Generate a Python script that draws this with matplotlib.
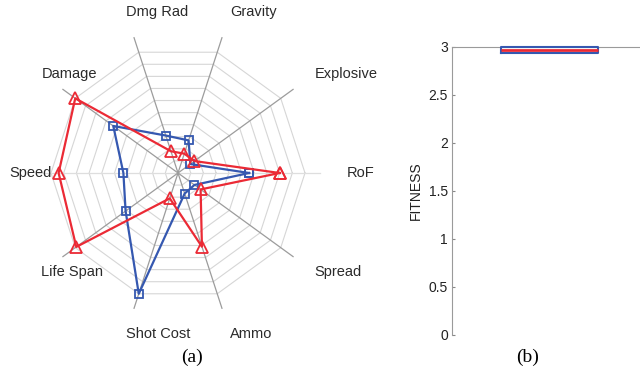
import numpy as np
import matplotlib
matplotlib.use('Agg')
import matplotlib.pyplot as plt

# radar axes, counter-clockwise from the right
labels = ['RoF', 'Explosive', 'Gravity', 'Dmg Rad', 'Damage',
          'Speed', 'Life Span', 'Shot Cost', 'Ammo', 'Spread']
red_vals = [0.80, 0.16, 0.16, 0.18, 1.00, 0.94, 0.99, 0.21, 0.61, 0.22]
blue_vals = [0.56, 0.12, 0.27, 0.31, 0.63, 0.43, 0.51, 1.00, 0.17, 0.16]
rings = [0.1, 0.2, 0.3, 0.4, 0.5, 0.6, 0.7, 0.8, 0.9, 1.0]

# fitness values for the box plot
fitness = [2.94, 2.94, 2.94, 2.965, 3.0, 3.0, 3.0]
yticks = [0, 0.5, 1, 1.5, 2, 2.5, 3]

RED = '#eb2a35'
BLUE = '#3558b0'

plt.rcParams['font.family'] = ['Liberation Sans', 'DejaVu Sans']

fig = plt.figure(figsize=(6.4, 3.77), dpi=100)

# ---- (a) radar ----
cx, cy, R = 178, 173, 127.0   # pixel centre and radius
ax = fig.add_axes([0, 0, 356 / 640, 1])
ax.set_xlim(-cx / R, (356 - cx) / R)
ax.set_ylim(-(377 - cy) / R, cy / R)
ax.axis('off')

n = len(labels)
ang = np.arange(n) * 2 * np.pi / n
ca = np.append(np.cos(ang), np.cos(ang[0]))
sa = np.append(np.sin(ang), np.sin(ang[0]))

for r in rings:
    ax.plot(r * ca, r * sa, color='#d6d6d6', lw=0.8, zorder=1)
for i in range(n):
    col = '#dedede' if abs(np.sin(ang[i])) < 1e-6 else '#9c9c9c'
    ax.plot([0, 1.12 * np.cos(ang[i])], [0, 1.12 * np.sin(ang[i])],
            color=col, lw=0.9, zorder=1)
    ax.text(1.33 * np.cos(ang[i]), 1.33 * np.sin(ang[i]), labels[i],
            ha='left', va='center', fontsize=10.5, color='#2a2a2a')

rv = np.append(red_vals, red_vals[0])
bv = np.append(blue_vals, blue_vals[0])
ax.plot(bv * ca, bv * sa, color=BLUE, lw=1.6, marker='s', ms=6,
        mfc='none', mec=BLUE, mew=1.3, zorder=3)
ax.plot(rv * ca, rv * sa, color=RED, lw=1.6, marker='^', ms=8,
        mfc='none', mec=RED, mew=1.3, zorder=4)

fig.text(192 / 640, 1 - 357 / 377, '(a)', ha='center', va='center',
         fontsize=14, family='Liberation Serif')

# ---- (b) box plot ----
bx = fig.add_axes([452 / 640, 1 - 335 / 377, 194 / 640, (335 - 47) / 377])
bp = bx.boxplot([fitness], widths=0.5, showcaps=False, showfliers=False,
                boxprops=dict(color=BLUE, lw=1.5),
                medianprops=dict(color=RED, lw=2),
                whiskerprops=dict(color=BLUE, lw=1, ls='--'))
for key in ['boxes', 'medians', 'whiskers']:
    for a in bp[key]:
        a.set_clip_on(False)
        a.set_zorder(5)
bx.set_xlim(0.5, 1.5)
bx.set_ylim(0, 3)
bx.set_xticks([])
bx.set_yticks(yticks)
bx.set_yticklabels(['0', '0.5', '1', '1.5', '2', '2.5', '3'])
bx.tick_params(axis='y', direction='in', length=2, pad=3,
               labelsize=10, color='#888888', labelcolor='#222222')
bx.spines['bottom'].set_visible(False)
bx.spines['right'].set_visible(False)
for s in ['left', 'top']:
    bx.spines[s].set_color('#9a9a9a')
bx.set_ylabel('FITNESS', fontsize=10, color='#222222', labelpad=4)

fig.text(528 / 640, 1 - 357 / 377, '(b)', ha='center', va='center',
         fontsize=14, family='Liberation Serif')

fig.savefig('out.png', dpi=100)
